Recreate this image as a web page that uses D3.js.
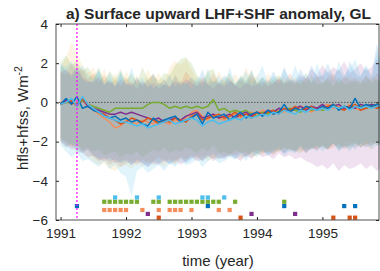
<!DOCTYPE html>
<html>
<head>
<meta charset="utf-8">
<script src="https://cdn.jsdelivr.net/npm/d3@7"></script>
<style>
  body { margin: 0; background: #fff; }
  svg text { font-family: "Liberation Sans", Arial, sans-serif; fill: #262626; }
</style>
</head>
<body>
<svg id="chart" width="380" height="271"></svg>
<script>
// monthly time axis, Jan 1991 .. Dec 1995
const months = d3.range(60).map(m => 1991 + m / 12);

const xTicks = [1991, 1992, 1993, 1994, 1995];
const yTicks = [-6, -4, -2, 0, 2, 4];
const eventYear = 1991.25;

// model anomaly series (Wm-2)
const blueLine = [-0.1,0.2,-0.1,0.3,-0.3,-0.2, -0.4,-0.5,-0.7,-0.8,-0.7,-0.9, -0.8,-1.0,-0.9,-1.1,-1.2,-0.8, -1.0,-0.9,-0.8,-0.7,-1.0,-0.9, -0.8,-0.6,-1.1,-0.5,-0.8,-0.7, -0.6,-0.9,-0.7,-0.5,-0.8,-0.6, -0.5,-0.7,-0.4,-0.6,-0.5,-0.1, -0.5,-0.3,-0.4,-0.2,-0.3,-0.4, -0.2,-0.3,-0.1,-0.4,-0.2,-0.3, 0.2,-0.3,-0.1,-0.2,-0.1,-0.2];
const cyanLine = [-0.1,0.0,0.2,-0.2,0.3,-0.1, -0.3,-0.5,-0.7,-0.8,-0.9,-1.0, -1.0,-1.1,-1.2,-1.1,-1.3,-1.2, -1.1,-1.0,-0.9,-1.1,-1.0,-0.9, -0.8,-0.9,-1.2,-1.0,-0.9,-1.1, -1.0,-0.9,-0.8,-0.9,-0.7,-0.8, -0.7,-0.6,-0.7,-0.5,-0.6,-0.4, -0.5,-0.6,-0.4,-0.5,-0.3,-0.4, -0.3,-0.4,-0.2,-0.3,-0.2,-0.4, -0.2,-0.3,-0.2,-0.3,-0.2,-0.1];
const greenLine = [-0.1,0.0,0.0,-0.1,0.1,-0.1, -0.2,-0.3,-0.4,-0.5,-0.3,-0.3, -0.3,-0.3,-0.3,-0.3,-0.1,0.0, 0.0,-0.1,-0.3,-0.2,-0.3,-0.2, -0.3,-0.2,-0.3,-0.2,0.15,-0.4, -0.3,-0.5,-0.4,-0.5,-0.4,-0.6, -0.7,-0.5,-0.6,-0.4,-0.5,-0.4, -0.3,-0.4,-0.5,-0.3,-0.4,-0.3, -0.4,-0.3,-0.2,-0.3,-0.2,-0.3, -0.2,-0.2,-0.3,-0.1,-0.2,-0.2];
const salmonLine = [0.0,0.1,-0.1,0.0,0.1,-0.2, -0.4,-0.6,-0.8,-1.0,-1.3,-1.2, -0.9,-1.0,-1.1,-0.9,-1.0,-1.1, -0.9,-1.0,-1.1,-0.9,-1.0,-0.8, -0.5,-0.4,-0.7,-0.9,-0.6,-0.8, -0.9,-0.7,-0.6,-0.8,-0.6,-0.5, -0.6,-0.4,-0.5,-0.6,-0.4,-0.5, -0.3,-0.4,-0.2,-0.3,-0.5,-0.3, -0.2,-0.1,-0.3,-0.2,-0.4,-0.1, -0.3,-0.4,-0.2,-0.3,-0.1,-0.3];
const purpleLine = [-0.1,0.1,0.0,-0.1,0.2,-0.2, -0.3,-0.4,-0.5,-0.6,-0.6,-0.5, -0.6,-0.5,-0.6,-0.7,-0.8,-0.9, -0.8,-1.0,-0.9,-0.8,-0.9,-0.7, -0.6,-0.5,-0.8,-0.7,-0.6,-0.8, -0.7,-0.6,-0.8,-0.6,-0.5,-0.7, -0.5,-0.6,-0.4,-0.5,-0.3,-0.4, -0.4,-0.3,-0.2,-0.4,-0.2,-0.3, -0.1,-0.3,-0.2,-0.1,-0.3,-0.2, -0.3,-0.1,-0.2,-0.1,-0.2,-0.1];
const orangeLine = [-0.1,0.0,0.1,-0.2,0.2,-0.1, -0.3,-0.5,-0.6,-0.8,-0.9,-1.1, -1.0,-0.8,-0.9,-1.0,-0.8,-0.9, -1.1,-0.9,-1.0,-0.8,-0.9,-1.0, -0.7,-0.6,-0.9,-0.8,-0.7,-0.6, -0.8,-0.7,-0.5,-0.7,-0.6,-0.8, -0.5,-0.6,-0.5,-0.4,-0.6,-0.3, -0.4,-0.2,-0.4,-0.3,-0.2,-0.4, -0.3,-0.2,-0.1,-0.3,-0.4,-0.2, -0.1,-0.4,-0.3,-0.2,-0.3,-0.2];

// ensemble spread bands (upper / lower)
const blueHi = [1.9,1.6,1.3,1.7,1.2,1.0, 1.1,1.6,0.9,1.2,0.8,1.5, 1.0,0.8,1.3,0.9,1.2,0.7, 1.0,0.9,1.4,0.8,1.1,0.9, 1.3,1.0,1.7,0.9,1.1,1.0, 1.4,1.1,0.9,1.3,1.0,1.6, 0.9,1.3,1.0,1.6,1.1,1.8, 1.2,1.1,1.7,1.2,1.9,1.3, 1.4,2.0,1.3,1.7,1.2,2.1, 1.5,1.3,1.9,1.4,3.0,1.6];
const blueLo = [-2.0,-2.3,-2.1,-2.5,-2.6,-2.4, -2.7,-2.9,-2.8,-3.0,-2.9,-3.1, -3.0,-3.2,-2.9,-3.1,-3.3,-3.0, -3.1,-2.9,-3.2,-3.0,-2.8,-3.1, -2.9,-2.7,-3.0,-2.8,-2.6,-2.9, -2.8,-2.7,-2.9,-2.6,-2.8,-2.5, -2.6,-2.4,-2.7,-2.5,-2.3,-2.6, -2.4,-2.5,-2.2,-2.6,-2.3,-2.5, -2.2,-2.4,-2.1,-2.5,-2.3,-2.2, -2.4,-2.1,-2.3,-2.2,-2.0,-2.3];
const cyanHi = [2.0,1.8,2.1,1.6,1.9,1.4, 1.2,1.7,1.0,1.5,0.9,1.6, 0.8,1.8,0.9,1.3,0.7,1.5, 0.8,1.2,0.7,1.4,0.8,1.1, 0.7,1.3,0.8,1.7,0.9,1.4, 0.8,1.8,1.0,1.2,1.6,0.9, 1.3,1.9,1.0,1.4,0.9,1.7, 1.1,1.9,1.2,1.5,1.0,2.0, 1.3,1.6,1.1,2.1,1.4,1.7, 2.2,1.4,1.8,1.2,2.6,1.5];
const cyanLo = [-2.2,-2.5,-2.8,-2.6,-3.0,-2.9, -3.1,-3.3,-3.0,-3.4,-3.2,-3.6, -3.8,-4.8,-3.5,-3.3,-3.6,-3.4, -3.2,-3.5,-3.1,-3.3,-3.0,-3.2, -3.1,-2.9,-3.3,-3.0,-2.8,-3.1, -3.0,-2.8,-2.9,-2.7,-3.0,-2.6, -2.8,-2.5,-2.7,-2.6,-2.4,-2.7, -2.5,-2.6,-2.3,-2.5,-2.4,-2.2, -2.5,-2.3,-2.1,-2.4,-2.2,-2.5, -2.1,-2.3,-2.0,-2.4,-2.2,-2.1];
const greenHi = [2.0,2.4,1.9,2.1,1.6,1.8, 1.3,1.8,1.1,1.6,1.2,1.7, 1.1,1.5,1.0,1.8,1.2,1.4, 1.1,1.5,1.4,1.9,2.2,2.3, 2.0,1.4,1.1,1.6,1.7,1.0, 1.2,1.5,0.9,1.4,1.1,1.7, 1.0,1.3,0.9,1.2,1.4,1.0, 1.2,0.9,1.2,1.0,1.4,0.9, 1.0,1.2,0.8,1.3,0.9,1.0, 1.1,0.9,1.3,1.0,1.2,0.9];
const greenLo = [-1.8,-2.0,-2.2,-2.1,-2.4,-2.3, -2.5,-2.4,-2.7,-2.6,-2.5,-2.8, -2.6,-2.7,-2.5,-2.8,-2.6,-2.4, -2.5,-2.3,-2.6,-2.4,-2.5,-2.3, -2.4,-2.6,-2.3,-2.5,-2.2,-2.6, -2.5,-2.7,-2.4,-2.6,-2.5,-2.8, -2.7,-2.5,-2.6,-2.4,-2.5,-2.3, -2.4,-2.5,-2.6,-2.3,-2.4,-2.2, -2.3,-2.4,-2.1,-2.3,-2.2,-2.4, -2.1,-2.3,-2.2,-2.0,-2.2,-2.1];
const salmonHi = [1.7,2.3,3.1,2.5,1.9,1.5, 1.8,1.2,1.7,1.0,1.5,0.9, 1.6,1.1,1.4,0.9,1.7,1.1, 1.5,1.0,1.8,2.1,1.9,2.2, 1.7,1.2,0.9,1.4,1.0,1.6, 1.1,0.9,1.5,1.0,1.8,1.1, 1.4,0.9,1.5,1.1,1.0,1.4, 0.9,1.3,1.0,1.5,0.9,1.2, 1.4,1.0,1.3,0.9,1.2,1.4, 1.0,1.3,0.9,1.4,1.1,1.0];
const salmonLo = [-2.1,-2.3,-2.2,-2.6,-2.5,-2.8, -3.0,-3.2,-3.1,-3.4,-3.5,-3.3, -3.2,-3.4,-3.1,-3.3,-3.0,-3.2, -3.1,-3.3,-3.0,-3.2,-2.9,-3.0, -2.8,-2.9,-2.7,-3.0,-2.8,-2.9, -2.7,-2.8,-2.6,-2.9,-2.7,-2.5, -2.6,-2.7,-2.4,-2.6,-2.5,-2.3, -2.5,-2.4,-2.2,-2.5,-2.3,-2.4, -2.2,-2.3,-2.1,-2.4,-2.2,-2.0, -2.3,-2.1,-2.2,-2.4,-2.0,-2.2];
const purpleHi = [1.5,1.7,1.4,1.9,1.3,1.1, 1.0,1.3,0.9,1.1,0.8,1.2, 0.9,1.0,0.7,1.1,0.8,1.0, 0.7,0.9,0.8,1.1,0.9,1.2, 1.0,0.8,1.1,0.9,0.7,1.0, 0.8,1.1,0.9,0.7,1.0,0.8, 0.9,1.1,0.8,1.0,1.2,0.9, 1.1,1.0,1.4,1.2,1.7,1.4, 1.9,1.5,1.8,1.6,2.1,1.5, 1.7,2.0,1.6,1.8,2.2,1.7];
const purpleLo = [-2.0,-2.2,-2.4,-2.3,-2.6,-2.8, -2.7,-2.9,-3.0,-2.8,-3.1,-3.0, -2.9,-3.2,-3.0,-3.1,-3.3,-3.1, -3.2,-3.0,-3.1,-2.9,-3.2,-3.0, -2.8,-3.0,-2.9,-2.7,-3.0,-2.8, -2.9,-2.7,-2.8,-3.0,-2.7,-2.9, -2.6,-2.8,-2.7,-2.9,-2.6,-2.8, -2.7,-2.9,-2.8,-3.0,-3.1,-3.3, -3.2,-3.4,-3.1,-3.5,-3.2,-3.4, -3.3,-3.1,-3.4,-3.2,-3.5,-3.3];
const orangeHi = [1.6,1.4,2.0,1.5,1.7,1.2, 1.5,1.0,1.4,0.9,1.2,0.8, 1.3,0.9,1.2,0.8,1.1,1.5, 0.9,1.2,0.8,1.4,1.0,1.6, 1.2,0.9,1.3,1.0,1.5,0.9, 1.0,1.3,0.8,1.2,0.9,1.4, 1.0,0.8,1.2,0.9,1.3,1.0, 1.5,1.1,0.9,1.3,1.0,1.4, 0.9,1.3,1.5,1.0,1.4,1.1, 1.3,1.0,1.4,1.1,1.5,1.2];
const orangeLo = [-1.9,-2.1,-2.3,-2.2,-2.5,-2.4, -2.8,-3.0,-2.9,-3.2,-3.0,-3.3, -3.1,-3.0,-3.2,-2.9,-3.1,-3.0, -2.8,-3.0,-2.9,-3.1,-2.8,-2.9, -2.7,-2.8,-3.0,-2.7,-2.9,-2.6, -2.8,-2.6,-2.7,-2.5,-2.8,-2.6, -2.4,-2.6,-2.5,-2.7,-2.4,-2.6, -2.3,-2.5,-2.4,-2.6,-2.3,-2.4, -2.2,-2.4,-2.3,-2.1,-2.4,-2.2, -2.0,-2.3,-2.1,-2.2,-2.0,-2.3];

// significance markers: years where each model is flagged, and the row it sits on
const blueMarks = [1991.25, 1993.25, 1994.417, 1995.333, 1995.5];
const cyanMarks = [1991.833, 1992.167, 1992.5, 1993.167, 1993.25, 1993.5];
const greenMarks = [1991.667, 1991.75, 1991.833, 1991.917, 1992.0, 1992.083, 1992.167, 1992.417, 1992.5,
  1992.667, 1992.75, 1992.833, 1992.917, 1993.0, 1993.083, 1993.167, 1993.25, 1993.333, 1993.417, 1993.667, 1994.417];
const salmonMarks = [1991.667, 1991.75, 1991.833, 1991.917, 1992.0, 1992.25, 1992.5, 1992.667, 1992.75, 1992.833, 1993.0, 1993.417, 1993.583];
const purpleMarks = [1992.333, 1993.917, 1994.583];
const orangeMarks = [1992.5, 1993.75, 1995.167, 1995.417, 1995.5];

const series = [
  { line: salmonLine, hi: salmonHi, lo: salmonLo, marks: salmonMarks, row: -5.49, color: '#F28E5C', band: '#F2C060' },
  { line: greenLine, hi: greenHi, lo: greenLo, marks: greenMarks, row: -5.07, color: '#77AC30', band: '#77AC30' },
  { line: purpleLine, hi: purpleHi, lo: purpleLo, marks: purpleMarks, row: -5.69, color: '#7E2F8E', band: '#A0509E' },
  { line: orangeLine, hi: orangeHi, lo: orangeLo, marks: orangeMarks, row: -5.88, color: '#D95319', band: '#E07040' },
  { line: blueLine, hi: blueHi, lo: blueLo, marks: blueMarks, row: -5.29, color: '#0072BD', band: '#3A8FD0' },
  { line: cyanLine, hi: cyanHi, lo: cyanLo, marks: cyanMarks, row: -4.85, color: '#4DBEEE', band: '#4DBEEE' }
];

const margin = { top: 24, right: 0, bottom: 51, left: 56 };
const width = 380, height = 271;
const svg = d3.select('#chart');

const x = d3.scaleLinear().domain([1990.93, 1995.88]).range([margin.left, width - margin.right]);
const y = d3.scaleLinear().domain([-6, 4]).range([height - margin.bottom, margin.top]);

svg.append('clipPath').attr('id', 'plot')
  .append('rect')
  .attr('x', x.range()[0]).attr('y', y.range()[1])
  .attr('width', x.range()[1] - x.range()[0]).attr('height', y.range()[0] - y.range()[1]);

const g = svg.append('g').attr('clip-path', 'url(#plot)');

// spread bands
series.forEach(s => {
  const area = d3.area()
    .x((d, i) => x(months[i]))
    .y0((d, i) => y(s.lo[i]))
    .y1((d, i) => y(s.hi[i]));
  g.append('path')
    .attr('d', area(months))
    .attr('fill', s.band)
    .attr('fill-opacity', 0.17);
});

// zero line
g.append('line')
  .attr('x1', x.range()[0]).attr('x2', x.range()[1])
  .attr('y1', y(0)).attr('y2', y(0))
  .attr('stroke', '#555').attr('stroke-width', 1)
  .attr('stroke-dasharray', '1.5,1.5');

// series lines
series.forEach(s => {
  const line = d3.line().x((d, i) => x(months[i])).y(d => y(d));
  g.append('path')
    .attr('d', line(s.line))
    .attr('fill', 'none')
    .attr('stroke', s.color)
    .attr('stroke-width', 1.5)
    .attr('stroke-linejoin', 'round');
});

// markers
series.forEach(s => {
  g.selectAll(null)
    .data(s.marks)
    .enter()
    .append('rect')
    .attr('x', d => x(d) - 2.1)
    .attr('y', y(s.row) - 2.1)
    .attr('width', 4.2)
    .attr('height', 4.2)
    .attr('fill', s.color);
});

// eruption marker
g.append('line')
  .attr('x1', x(eventYear)).attr('x2', x(eventYear))
  .attr('y1', y.range()[1]).attr('y2', y.range()[0])
  .attr('stroke', '#FF00FF').attr('stroke-width', 1.2)
  .attr('stroke-dasharray', '2,2');

// axes (box with inward ticks, MATLAB style)
const axisColor = '#262626';
function styleAxis(sel) {
  sel.select('.domain').remove();
  sel.selectAll('line').attr('stroke', axisColor);
  sel.selectAll('text').style('font-size', '13.5px').attr('fill', axisColor);
}

svg.append('g')
  .attr('transform', `translate(0,${y.range()[0]})`)
  .call(d3.axisBottom(x).tickValues(xTicks).tickFormat(d3.format('d')).tickSizeInner(-3).tickPadding(8))
  .call(styleAxis);

svg.append('g')
  .attr('transform', `translate(0,${y.range()[1]})`)
  .call(d3.axisTop(x).tickValues(xTicks).tickFormat('').tickSizeInner(-3))
  .call(styleAxis);

svg.append('g')
  .attr('transform', `translate(${x.range()[0]},0)`)
  .call(d3.axisLeft(y).tickValues(yTicks).tickSizeInner(-3).tickPadding(8))
  .call(styleAxis);

svg.append('g')
  .attr('transform', `translate(${x.range()[1] - 1},0)`)
  .call(d3.axisRight(y).tickValues(yTicks).tickFormat('').tickSizeInner(-3))
  .call(styleAxis);

svg.append('rect')
  .attr('x', x.range()[0]).attr('y', y.range()[1])
  .attr('width', x.range()[1] - x.range()[0] - 1).attr('height', y.range()[0] - y.range()[1])
  .attr('fill', 'none').attr('stroke', axisColor).attr('stroke-width', 0.8);

// title
svg.append('text')
  .attr('x', 218.5).attr('y', 19)
  .attr('text-anchor', 'middle')
  .style('font-size', '15.5px').style('font-weight', 'bold')
  .attr('fill', '#000')
  .text('a) Surface upward LHF+SHF anomaly, GL');

// x label
svg.append('text')
  .attr('x', 218).attr('y', 266)
  .attr('text-anchor', 'middle')
  .style('font-size', '15px')
  .text('time (year)');

// y label
const yl = svg.append('text')
  .attr('transform', 'translate(28,118) rotate(-90)')
  .attr('text-anchor', 'middle')
  .style('font-size', '15px');
yl.append('tspan').text('hfls+hfss, Wm');
yl.append('tspan').attr('dy', -6).style('font-size', '10.5px').text('-2');
</script>
</body>
</html>
